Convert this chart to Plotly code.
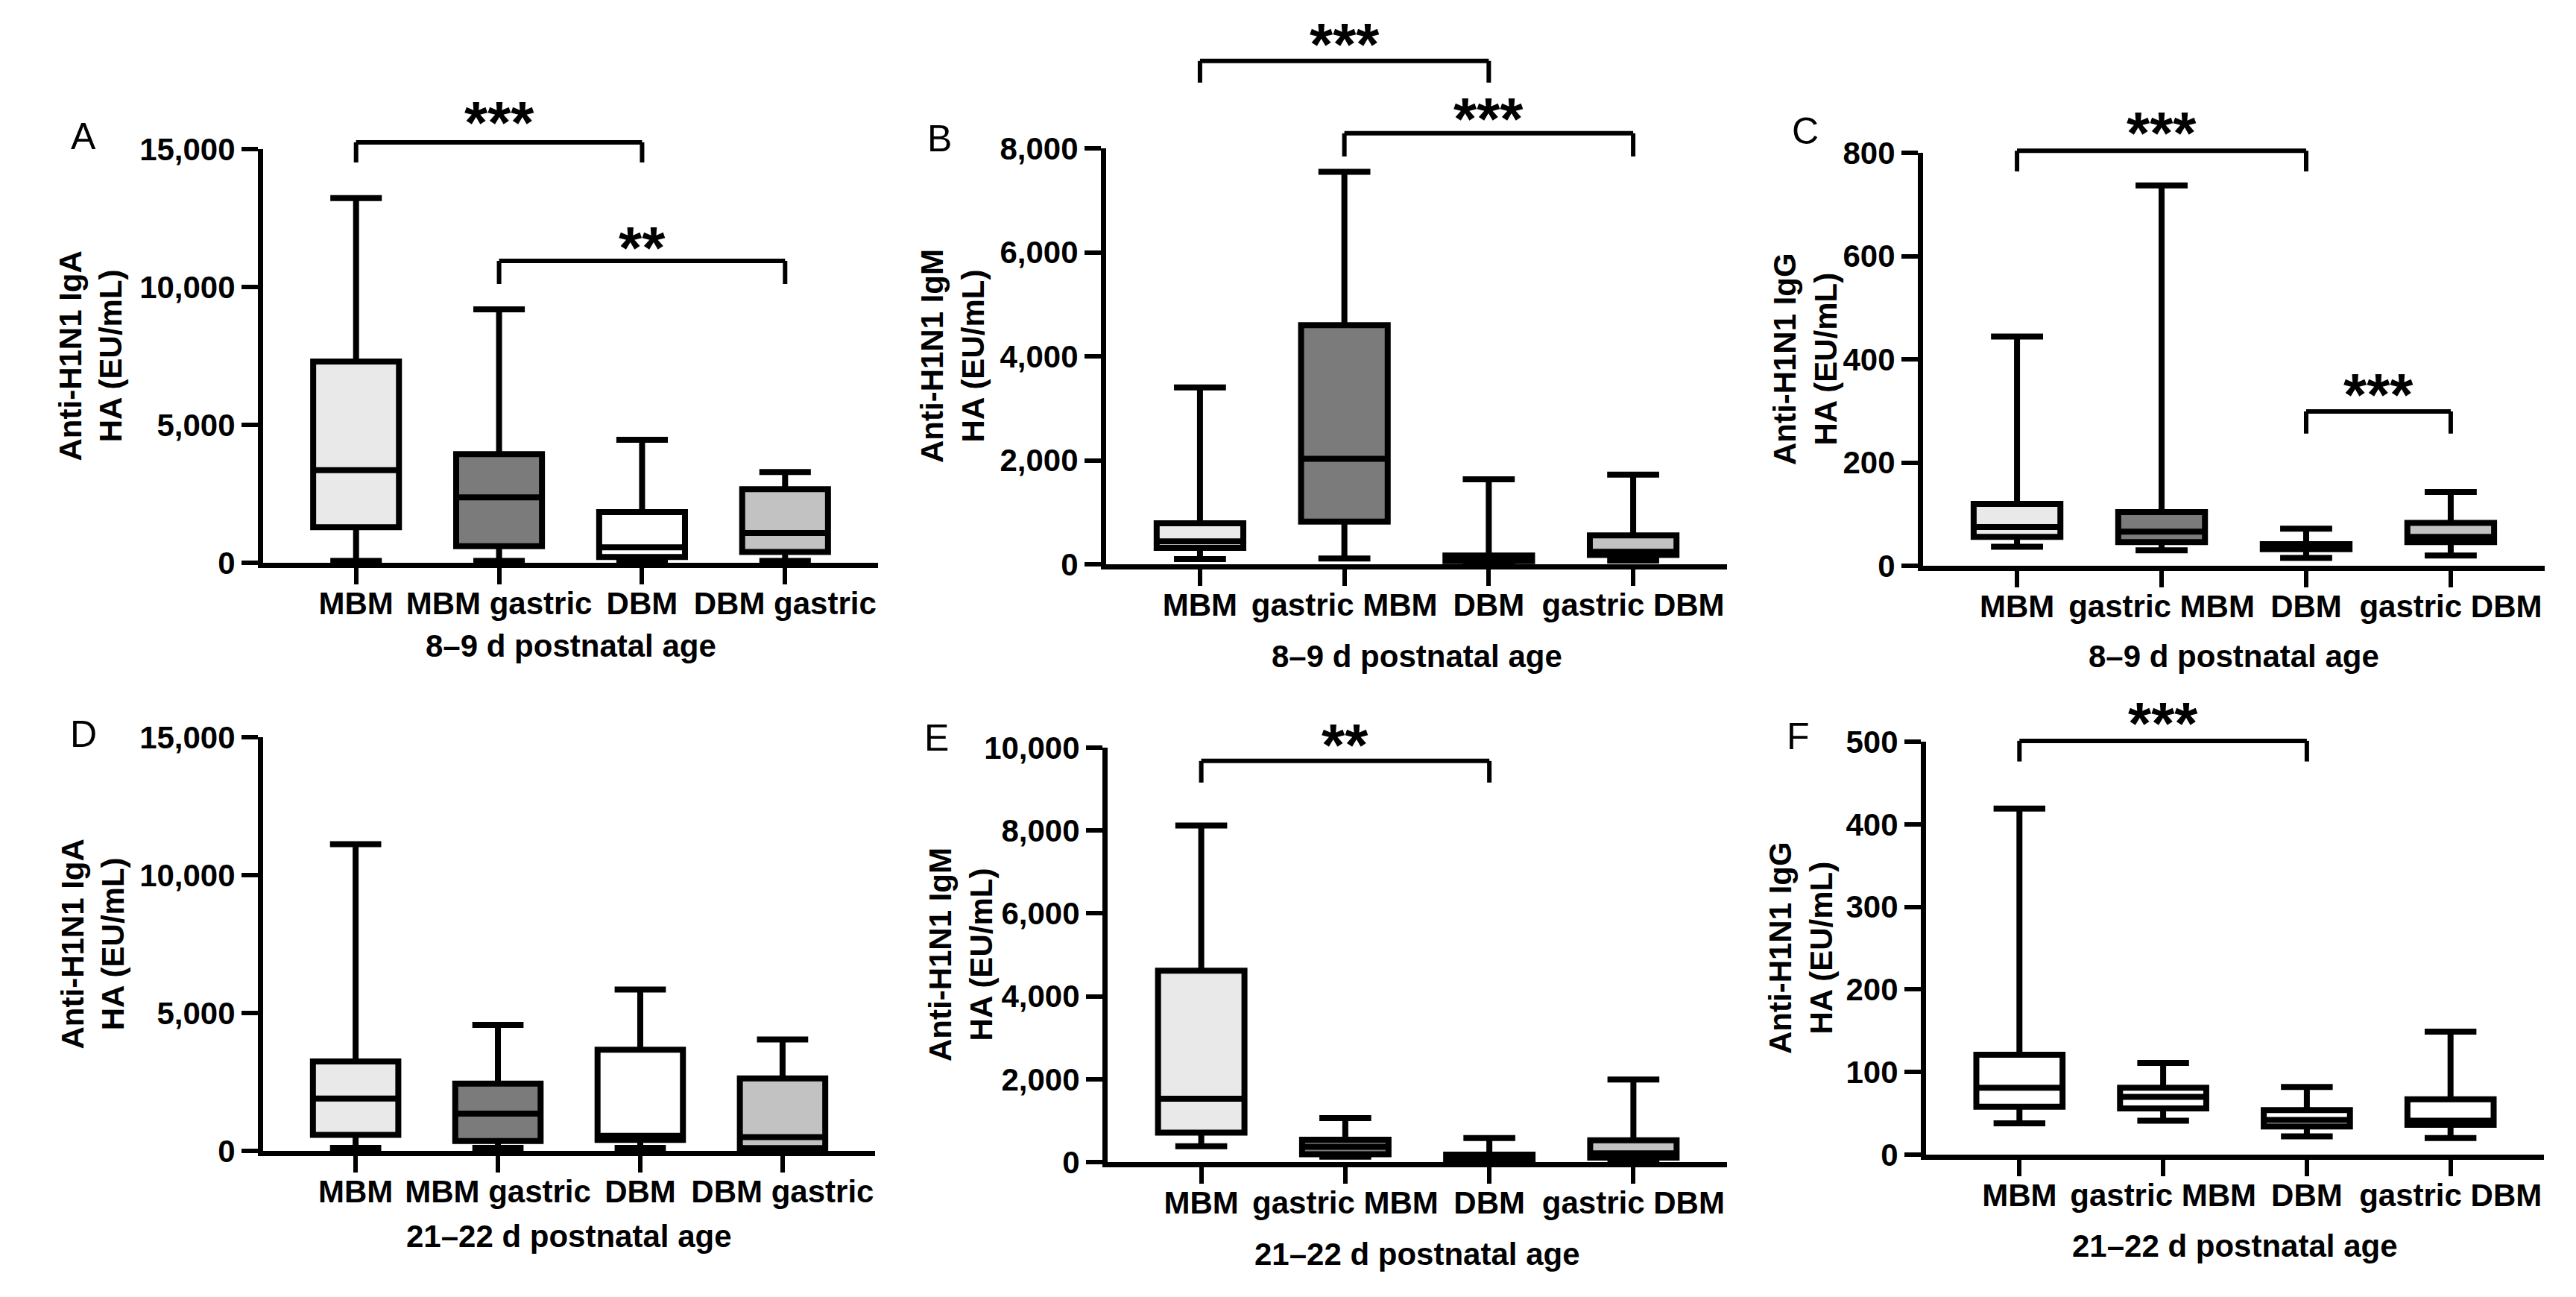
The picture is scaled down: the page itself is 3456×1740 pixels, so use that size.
import plotly.graph_objects as go

W, H = 3456, 1740
FONT = "Liberation Sans, Arial, sans-serif"

# ---------------- data ----------------
cats_left = ["MBM", "MBM gastric", "DBM", "DBM gastric"]
cats_right = ["MBM", "gastric MBM", "DBM", "gastric DBM"]

# A: Anti-H1N1 IgA, 8–9 d
A_low = [70, 70, 60, 70]
A_q1 = [1290, 600, 210, 390]
A_med = [3360, 2370, 560, 1080]
A_q3 = [7300, 3940, 1840, 2670]
A_high = [13220, 9190, 4460, 3290]

# B: Anti-H1N1 IgM, 8–9 d
B_low = [100, 110, 30, 70]
B_q1 = [315, 820, 60, 180]
B_med = [440, 2030, 90, 240]
B_q3 = [790, 4600, 170, 555]
B_high = [3400, 7550, 1635, 1725]

# C: Anti-H1N1 IgG, 8–9 d
C_low = [37, 30, 15, 20]
C_q1 = [56, 46, 32, 46]
C_med = [75, 66, 37, 56]
C_q3 = [120, 104, 42, 83]
C_high = [444, 737, 72, 143]

# D: Anti-H1N1 IgA, 21–22 d
D_low = [110, 110, 110, 50]
D_q1 = [580, 360, 400, 100]
D_med = [1900, 1350, 550, 500]
D_q3 = [3240, 2440, 3670, 2630]
D_high = [11120, 4570, 5850, 4040]

# E: Anti-H1N1 IgM, 21–22 d
E_low = [380, 130, 30, 60]
E_q1 = [710, 190, 60, 110]
E_med = [1530, 370, 100, 210]
E_q3 = [4620, 540, 180, 525]
E_high = [8120, 1060, 580, 1990]

# F: Anti-H1N1 IgG, 21–22 d
F_low = [38, 41, 22, 20]
F_q1 = [58, 56, 34, 36]
F_med = [81, 70, 42, 41]
F_q3 = [121, 81, 54, 67]
F_high = [419, 111, 82, 149]

y_titles = ["Anti-H1N1 IgA<br>HA (EU/mL)", "Anti-H1N1 IgM<br>HA (EU/mL)", "Anti-H1N1 IgG<br>HA (EU/mL)",
            "Anti-H1N1 IgA<br>HA (EU/mL)", "Anti-H1N1 IgM<br>HA (EU/mL)", "Anti-H1N1 IgG<br>HA (EU/mL)"]
x_titles = ["8–9 d postnatal age"] * 3 + ["21–22 d postnatal age"] * 3
letters = ["A", "B", "C", "D", "E", "F"]
y_max = [15000, 8000, 800, 15000, 10000, 500]
y_ticks = [[0, 5000, 10000, 15000], [0, 2000, 4000, 6000, 8000], [0, 200, 400, 600, 800],
           [0, 5000, 10000, 15000], [0, 2000, 4000, 6000, 8000, 10000], [0, 100, 200, 300, 400, 500]]

# significance brackets: (left box, right box, label)
sig_A = [(0, 2, "***"), (1, 3, "**")]
sig_B = [(0, 2, "***"), (1, 3, "***")]
sig_C = [(0, 2, "***"), (2, 3, "***")]
sig_D = []
sig_E = [(0, 2, "**")]
sig_F = [(0, 2, "***")]
# bracket heights in data units: (bar, leg end, star centre)
brk_A = [(15245, 14515, 16326), (10946, 10108, 11785)]
brk_B = [(9680, 9264, 10196), (8289, 7844, 8762)]
brk_C = [(804, 764, 859), (299, 256, 351)]
brk_D = []
brk_E = [(9679, 9157, 10308)]
brk_F = [(501, 476, 535)]

LIGHT, DARK, WHITE, MID = "#e9e9e9", "#7b7b7b", "#ffffff", "#c2c2c2"
fills = [[LIGHT, DARK, WHITE, MID]] * 5 + [[WHITE, WHITE, WHITE, WHITE]]

# ---------------- layout geometry (pixels) ----------------
# plot area: left, right, top(y max), bottom(y=0)
areas = [(353, 1178, 200, 755), (1484, 2317, 199, 757), (2580, 3414, 205, 759),
         (353, 1174, 989, 1544), (1486, 2317, 1003, 1559), (2584, 3413, 995, 1549)]
letter_pos = [(112, 183), (1260, 186), (2422, 176), (112, 985), (1256, 990), (2412, 988)]
ytitle_x = [122, 1278, 2422, 124, 1289, 2416]
xtitle_y = [866, 880, 880, 1658, 1682, 1671]
XR = (-0.65, 3.65)

stats = [(A_low, A_q1, A_med, A_q3, A_high), (B_low, B_q1, B_med, B_q3, B_high),
         (C_low, C_q1, C_med, C_q3, C_high), (D_low, D_q1, D_med, D_q3, D_high),
         (E_low, E_q1, E_med, E_q3, E_high), (F_low, F_q1, F_med, F_q3, F_high)]
sigs = [sig_A, sig_B, sig_C, sig_D, sig_E, sig_F]
brks = [brk_A, brk_B, brk_C, brk_D, brk_E, brk_F]
cats_all = [cats_left, cats_right, cats_right, cats_left, cats_right, cats_right]

fig = go.Figure()
layout = dict(width=W, height=H, margin=dict(l=0, r=0, t=0, b=0, autoexpand=False),
              paper_bgcolor="white", plot_bgcolor="white", showlegend=False,
              boxmode="overlay")
annotations = []
shapes = []


def dom_x(pos):
    return (pos - XR[0]) / (XR[1] - XR[0])


for p in range(6):
    sfx = "" if p == 0 else str(p + 1)
    xid, yid = "x" + sfx, "y" + sfx
    L, R, T, B = areas[p]
    cats = cats_all[p]
    lo, q1, md, q3, hi = stats[p]
    for i, c in enumerate(cats):
        fig.add_trace(go.Box(
            x=[c], lowerfence=[lo[i]], q1=[q1[i]], median=[md[i]], q3=[q3[i]], upperfence=[hi[i]],
            fillcolor=fills[p][i], line=dict(color="black", width=8),
            width=0.6, whiskerwidth=0.6, boxpoints=False, hoverinfo="skip",
            xaxis=xid, yaxis=yid, showlegend=False))
    tick_font = dict(family=FONT, size=42, color="black", weight="bold")
    layout["xaxis" + sfx] = dict(
        domain=[L / W, R / W], anchor=yid, type="category", categoryorder="array",
        categoryarray=cats, range=list(XR), showline=True, linecolor="black", linewidth=7,
        ticks="outside", ticklen=22, tickwidth=6, tickcolor="black", tickangle=0,
        ticklabelstandoff=-10,
        tickfont=tick_font, showgrid=False, zeroline=False, automargin=False)
    layout["yaxis" + sfx] = dict(
        domain=[1 - B / H, 1 - T / H], anchor=xid, range=[0, y_max[p]],
        tickvals=y_ticks[p], tickformat=",", showline=True, linecolor="black", linewidth=7,
        ticks="outside", ticklen=22, tickwidth=6, tickcolor="black",
        tickfont=tick_font, showgrid=False, zeroline=False, automargin=False)

    # panel letter
    lx, ly = letter_pos[p]
    annotations.append(dict(text=letters[p], x=lx / W, y=1 - ly / H, xref="paper", yref="paper",
                            showarrow=False, xanchor="center", yanchor="middle",
                            font=dict(family=FONT, size=50, color="black")))
    # y title
    annotations.append(dict(text=y_titles[p], x=ytitle_x[p] / W, y=1 - (T + B) / 2 / H,
                            xref="paper", yref="paper", showarrow=False, textangle=-90,
                            xanchor="center", yanchor="middle",
                            font=dict(family=FONT, size=42, color="black", weight="bold")))
    # x title
    annotations.append(dict(text=x_titles[p], x=(L + R) / 2 / W, y=1 - xtitle_y[p] / H,
                            xref="paper", yref="paper", showarrow=False,
                            xanchor="center", yanchor="middle",
                            font=dict(family=FONT, size=42, color="black", weight="bold")))
    # significance brackets
    for (a, b, lab), (ybar, yleg, ystar) in zip(sigs[p], brks[p]):
        xa, xb = dom_x(a), dom_x(b)
        yb, yl, ys = ybar / y_max[p], yleg / y_max[p], ystar / y_max[p]
        line = dict(color="black", width=6)
        for (x0, y0, x1, y1) in [(xa, yl, xa, yb), (xa, yb, xb, yb), (xb, yb, xb, yl)]:
            shapes.append(dict(type="line", xref=xid + " domain", yref=yid + " domain",
                               x0=x0, y0=y0, x1=x1, y1=y1, line=line))
        annotations.append(dict(text=lab, x=(xa + xb) / 2, y=ys, xref=xid + " domain",
                                yref=yid + " domain", showarrow=False, xanchor="center",
                                yanchor="middle", yshift=-14,
                                font=dict(family=FONT, size=80, color="black", weight="bold")))

layout["annotations"] = annotations
layout["shapes"] = shapes
fig.update_layout(**layout)
fig.write_html("out.html")
